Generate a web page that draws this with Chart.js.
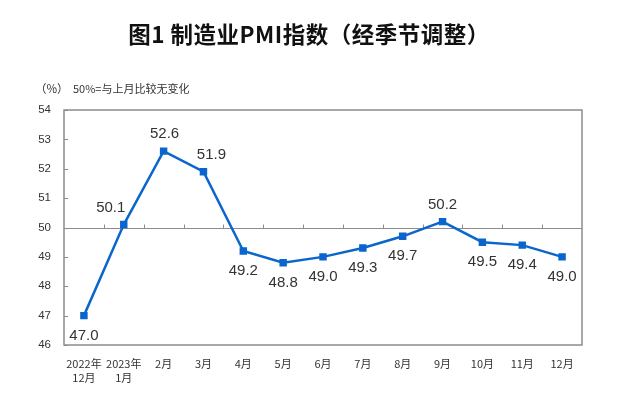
<!DOCTYPE html>
<html><head><meta charset="utf-8">
<script src="https://cdn.jsdelivr.net/npm/chart.js@4.4.0/dist/chart.umd.min.js"></script>
<style>
html,body{margin:0;padding:0;background:#fff;}
#wrap{position:relative;width:640px;height:405px;}
#title{position:absolute;left:0;width:618px;top:17px;text-align:center;font:bold 22.5px "Noto Sans CJK SC";letter-spacing:0.5px;color:#111;white-space:nowrap;}
#unit{position:absolute;left:35px;top:80px;font:11.5px "Noto Sans CJK SC";color:#333;white-space:nowrap;}
#note{position:absolute;left:73px;top:80px;font:11px "Noto Sans CJK SC";color:#333;white-space:nowrap;}
canvas{position:absolute;left:0;top:0;}
</style></head>
<body><div id="wrap">
<canvas id="c" width="640" height="405"></canvas>
<div id="title">图1 制造业PMI指数（经季节调整）</div>
<div id="unit">（%）</div>
<div id="note">50%=与上月比较无变化</div>
</div>
<script>
const categories = [["2022年","12月"],["2023年","1月"],"2月","3月","4月","5月","6月","7月","8月","9月","10月","11月","12月"];
const pmiValues = [47.0,50.1,52.6,51.9,49.2,48.8,49.0,49.3,49.7,50.2,49.5,49.4,49.0];
const yTicks = [46,47,48,49,50,51,52,53,54];
const labelSide = ["below","above","above","above","below","below","below","below","below","above","below","below","below"];
const labelShift = [0,-13,1,8,0,0,0,0,0,0,0,0,0];

const frameColor = '#8c8c8c';

const framePlugin = {
  id:'frame',
  beforeDatasetsDraw(chart){
    const {ctx, chartArea:a, scales:{x,y}} = chart;
    ctx.save();
    ctx.strokeStyle = frameColor;
    ctx.lineWidth = 1.5;
    ctx.strokeRect(a.left, a.top, a.right-a.left, a.bottom-a.top);
    const y50 = Math.round(y.getPixelForValue(50))+0.5;
    ctx.lineWidth = 1.2;
    ctx.beginPath(); ctx.moveTo(a.left,y50); ctx.lineTo(a.right,y50); ctx.stroke();
    ctx.lineWidth = 1;
    for(let i=0;i<categories.length-1;i++){
      const px = Math.round((x.getPixelForValue(i)+x.getPixelForValue(i+1))/2)+0.5;
      ctx.beginPath(); ctx.moveTo(px,y50); ctx.lineTo(px,y50-4); ctx.stroke();
    }
    yTicks.forEach(v=>{
      const py = Math.round(y.getPixelForValue(v))+0.5;
      ctx.beginPath(); ctx.moveTo(a.left,py); ctx.lineTo(a.left+4,py); ctx.stroke();
    });
    ctx.restore();
  }
};

const labelPlugin = {
  id:'vlabels',
  afterDatasetsDraw(chart){
    const {ctx} = chart;
    const meta = chart.getDatasetMeta(0);
    ctx.save();
    ctx.font = '15px "Liberation Sans", Arial, sans-serif';
    ctx.fillStyle = '#333';
    ctx.textAlign = 'center';
    ctx.textBaseline = 'middle';
    meta.data.forEach((pt,i)=>{
      const dy = labelSide[i]==='above' ? -17 : 20;
      ctx.fillText(pmiValues[i].toFixed(1), pt.x+labelShift[i], pt.y+dy);
    });
    ctx.restore();
  }
};

new Chart(document.getElementById('c'),{
  type:'line',
  data:{labels:categories,datasets:[{
    data:pmiValues,
    borderColor:'#0a66cc',
    backgroundColor:'#0a66cc',
    borderWidth:2.5,
    pointStyle:'rect',
    pointRadius:3.5,
    pointHoverRadius:3.5,
    tension:0
  }]},
  options:{
    responsive:false,
    animation:false,
    events:[],
    layout:{padding:{top:110,right:58,left:0,bottom:0}},
    plugins:{legend:{display:false},tooltip:{enabled:false}},
    scales:{
      x:{
        type:'category',
        offset:true,
        afterFit(s){ s.height = 60; },
        grid:{display:false,drawTicks:false},
        border:{display:false},
        ticks:{padding:12,maxRotation:0,autoSkip:false,color:'#333',
          font:{family:'"Noto Sans CJK SC"',size:11,lineHeight:1.25}}
      },
      y:{
        min:46,max:54,
        afterFit(s){ s.width = 64; },
        afterBuildTicks(s){ s.ticks = yTicks.map(v=>({value:v})); },
        grid:{display:false,drawTicks:false},
        border:{display:false},
        ticks:{padding:13,color:'#333',font:{family:'"Liberation Sans", Arial',size:11.5}}
      }
    }
  },
  plugins:[framePlugin,labelPlugin]
});
</script>
</body></html>
